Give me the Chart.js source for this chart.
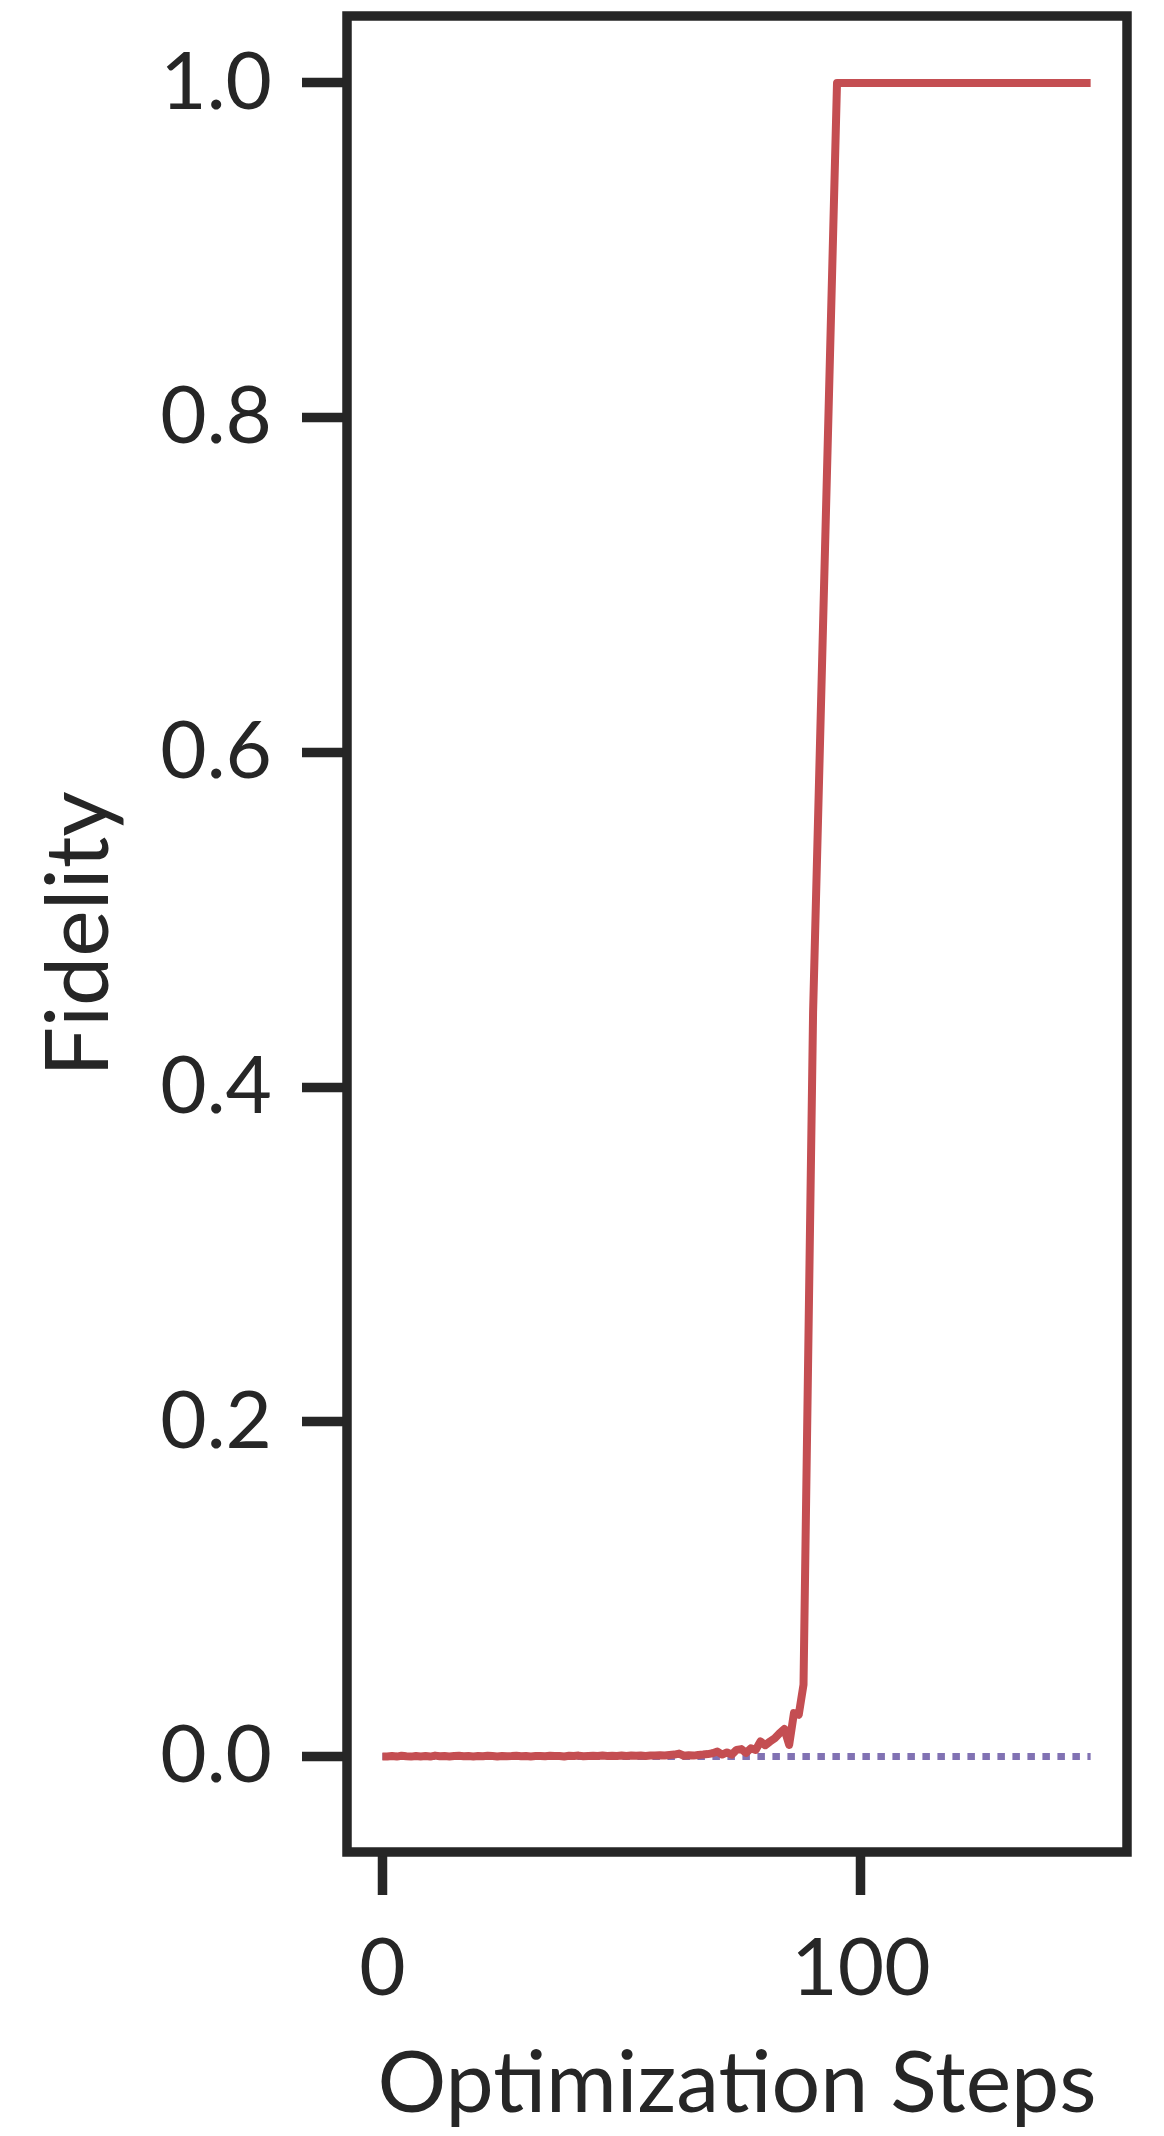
<!DOCTYPE html>
<html>
<head>
<meta charset="utf-8">
<script src="https://cdn.jsdelivr.net/npm/chart.js@4.4.1/dist/chart.umd.min.js"></script>
<style>
  html, body { margin: 0; padding: 0; background: #ffffff; }
  #wrap { width: 1164px; height: 2136px; }
</style>
</head>
<body>
<div id="wrap"><canvas id="fidelity" width="1164" height="2136"></canvas></div>
<script>
// values
var optSteps = [
  0,1,2,3,4,5,6,7,8,9,10,11,12,13,14,15,16,17,18,19,
  20,21,22,23,24,25,26,27,28,29,30,31,32,33,34,35,36,37,38,39,
  40,41,42,43,44,45,46,47,48,49,50,51,52,53,54,55,56,57,58,59,
  60,61,62,63,64,65,66,67,68,69,70,71,72,73,74,75,76,77,78,79,
  80,81,82,83,84,85,86,87,88,90,95,148
];
var fidelityA = [
  0,0,0.0003,0,0.0005,0.0002,0,0.0004,0.0001,0.0003,
  0,0.0006,0.0002,0.0003,0.0001,0.0004,0.0005,0.0002,0.0003,0.0001,
  0.0004,0.0002,0.0005,0.0003,0.0001,0.0004,0.0002,0.0003,0.0005,0.0002,
  0.0004,0.0001,0.0003,0.0004,0.0002,0.0005,0.0003,0.0004,0.0001,0.0005,
  0.0003,0.0006,0.0002,0.0004,0.0005,0.0003,0.0006,0.0004,0.0005,0.0003,
  0.0006,0.0004,0.0007,0.0005,0.0006,0.0004,0.0007,0.0006,0.0008,0.0006,
  0.0009,0.0012,0.0018,0.0005,0.0008,0.0006,0.001,0.0012,0.0015,0.002,
  0.003,0.0012,0.0025,0.0012,0.004,0.0045,0.0022,0.005,0.004,0.009,
  0.0068,0.009,0.011,0.014,0.0165,0.007,0.026,0.025,0.043,0.445,1.0,1.0
];
var baseSteps = [0, 148];
var fidelityB = [0, 0];

var xTicks = [0, 100];
var yTicks = [0, 0.2, 0.4, 0.6, 0.8, 1.0];

var ink = '#262626';
var fontName = 'Lato, "Noto Sans", sans-serif';

function toPoints(xs, ys) {
  var pts = [];
  for (var i = 0; i < xs.length; i++) {
    pts.push({x: xs[i], y: ys[i]});
  }
  return pts;
}

// box around the plot area, like the matplotlib spines
var frame = {
  id: 'frame',
  afterDatasetsDraw: function(chart) {
    var a = chart.chartArea;
    var c = chart.ctx;
    c.save();
    c.strokeStyle = ink;
    c.lineWidth = 9.5;
    c.strokeRect(a.left, a.top, a.right - a.left, a.bottom - a.top);
    c.restore();
  }
};

var ctx = document.getElementById('fidelity');
var chart = new Chart(ctx, {
  type: 'line',
  data: {
    datasets: [{
      data: toPoints(optSteps, fidelityA),
      borderColor: '#C44E52',
      borderWidth: 8,
      borderJoinStyle: 'round',
      pointRadius: 0,
      tension: 0,
      fill: false
    }, {
      data: toPoints(baseSteps, fidelityB),
      borderColor: '#8172B3',
      borderWidth: 7,
      borderDash: [7.5, 7.5],
      pointRadius: 0,
      tension: 0,
      fill: false
    }]
  },
  options: {
    responsive: false,
    animation: false,
    devicePixelRatio: 1,
    layout: { padding: { top: 16, right: 37, left: 0, bottom: 0 } },
    plugins: {
      legend: { display: false },
      tooltip: { enabled: false }
    },
    scales: {
      x: {
        type: 'linear',
        min: -7.4,
        max: 155.6,
        afterBuildTicks: function(scale) {
          scale.ticks = xTicks.map(function(v) { return {value: v}; });
        },
        afterFit: function(scale) {
          scale.height = 284;
          scale.paddingLeft = 0;
          scale.paddingRight = 0;
        },
        border: { display: false },
        grid: {
          drawOnChartArea: false,
          drawTicks: true,
          tickLength: 43,
          tickWidth: 9.5,
          tickColor: ink
        },
        ticks: {
          color: ink,
          padding: 26,
          maxRotation: 0,
          font: { family: fontName, size: 80 },
          callback: function(v) { return String(v); }
        },
        title: {
          display: true,
          text: 'Optimization Steps',
          color: ink,
          font: { family: fontName, size: 86 },
          padding: { top: 0, bottom: 0 }
        }
      },
      y: {
        type: 'linear',
        min: -0.057,
        max: 1.04,
        afterBuildTicks: function(scale) {
          scale.ticks = yTicks.map(function(v) { return {value: v}; });
        },
        afterFit: function(scale) {
          scale.width = 347;
          scale.paddingTop = 0;
          scale.paddingBottom = 0;
        },
        border: { display: false },
        grid: {
          drawOnChartArea: false,
          drawTicks: true,
          tickLength: 45,
          tickWidth: 9.5,
          tickColor: ink
        },
        ticks: {
          color: ink,
          padding: 30,
          font: { family: fontName, size: 80 },
          callback: function(v) { return v.toFixed(1); }
        },
        title: {
          display: true,
          text: 'Fidelity',
          color: ink,
          font: { family: fontName, size: 88 },
          padding: { top: 27, bottom: 0 }
        }
      }
    }
  },
  plugins: [frame]
});
</script>
</body>
</html>
